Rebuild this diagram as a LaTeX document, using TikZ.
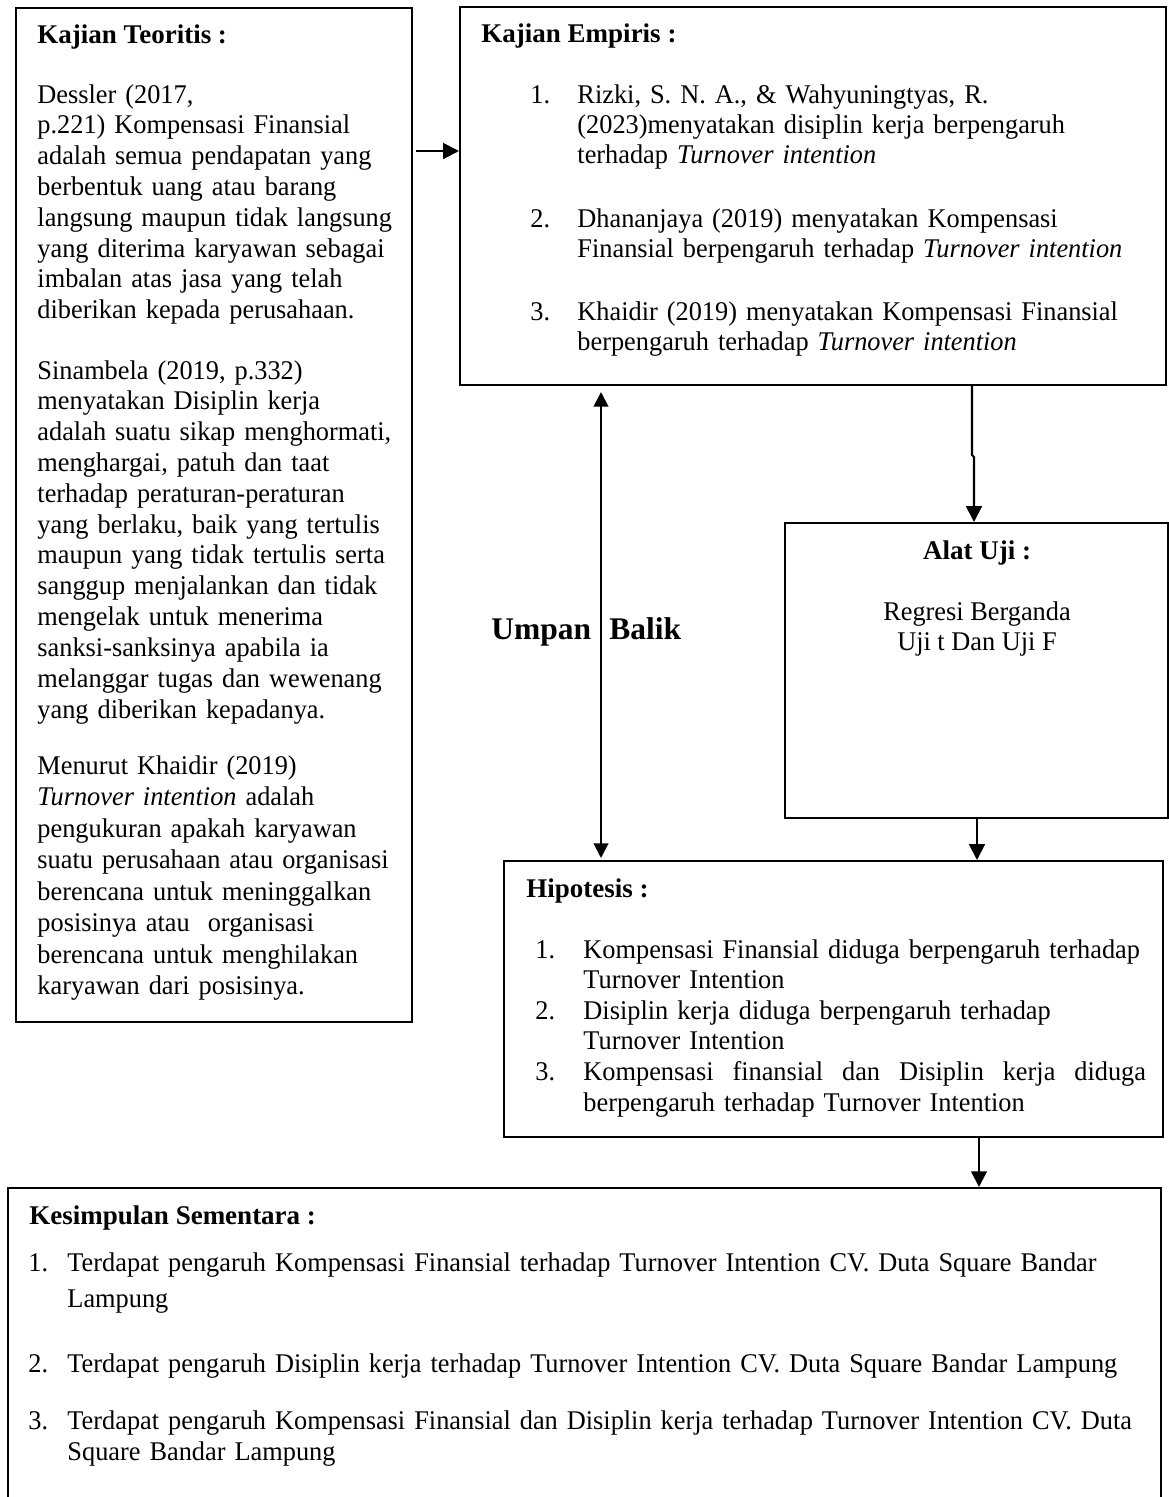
\documentclass[tikz,border=0pt]{standalone}
\usepackage{fontspec}
\setmainfont{Liberation Serif}[UprightFeatures={FakeStretch=0.975},ItalicFeatures={FakeStretch=0.975}]
\usetikzlibrary{arrows.meta,fit,calc}
\frenchspacing
\begin{document}
\begin{tikzpicture}[x=0.4444pt,y=-0.4444pt,
  box/.style={draw, line width=0.9pt, inner sep=0pt},
  arr/.style={line width=0.9pt, -{Triangle[length=7pt,width=7pt]}},
  darr/.style={line width=0.9pt, {Triangle[length=6.5pt,width=6.5pt]}-{Triangle[length=6.5pt,width=6.5pt]}},
  txt/.style={anchor=base west, inner sep=0pt, font=\fontsize{12}{13.7}\selectfont, align=left, text width=#1},
  txt/.default=180pt,
  hd/.style={anchor=base west, inner sep=0pt, font=\fontsize{12}{13.7}\selectfont\bfseries},
  num/.style={anchor=base west, inner sep=0pt, font=\fontsize{12}{13.7}\selectfont},
  ctr/.style={anchor=base, inner sep=0pt, font=\fontsize{12}{13.7}\selectfont},
  big/.style={anchor=base west, inner sep=0pt, font=\fontsize{14}{16}\selectfont\bfseries},
]
\clip (0,0) rectangle (1169,1497);
\fill[white] (0,0) rectangle (1169,1497);

% boxes
\node[box, fit={(16,8) (412,1022)}] (teo) {};
\node[box, fit={(460,7) (1166,385)}] (emp) {};
\node[box, fit={(785,523) (1168,818)}] (alat) {};
\node[box, fit={(504,861) (1163,1137)}] (hip) {};
\node[box, fit={(8,1188) (1161,1540)}] (kes) {};

% Kajian Teoritis
\node[hd] (teoh) at (37,43) {Kajian Teoritis :};
\node[txt] (teo1) at (37,103) {Dessler (2017,\\ p.221) Kompensasi Finansial\\ adalah semua pendapatan yang\\ berbentuk uang atau barang\\ langsung maupun tidak langsung\\ yang diterima karyawan sebagai\\ imbalan atas jasa yang telah\\ diberikan kepada perusahaan.};
\node[txt] (teo2) at (37,379) {Sinambela (2019, p.332)\\ menyatakan Disiplin kerja\\ adalah suatu sikap menghormati,\\ menghargai, patuh dan taat\\ terhadap peraturan-peraturan\\ yang berlaku, baik yang tertulis\\ maupun yang tidak tertulis serta\\ sanggup menjalankan dan tidak\\ mengelak untuk menerima\\ sanksi-sanksinya apabila ia\\ melanggar tugas dan wewenang\\ yang diberikan kepadanya.};
\node[txt, font=\fontsize{12}{14.0}\selectfont] (teo3) at (37,774) {Menurut Khaidir (2019)\\ \textit{Turnover intention} adalah\\ pengukuran apakah karyawan\\ suatu perusahaan atau organisasi\\ berencana untuk meninggalkan\\ posisinya atau\ \ organisasi\\ berencana untuk menghilakan\\ karyawan dari posisinya.};

% Kajian Empiris
\node[hd] (emph) at (481,42) {Kajian Empiris :};
\node[num] (e1n) at (530,103) {1.};
\node[txt=300pt, font=\fontsize{12}{13.4}\selectfont] (e1) at (577,103) {Rizki, S. N. A., \& Wahyuningtyas, R.\\ (2023)menyatakan disiplin kerja berpengaruh\\ terhadap \textit{Turnover intention}};
\node[num] (e2n) at (530,227) {2.};
\node[txt=300pt, font=\fontsize{12}{13.4}\selectfont] (e2) at (577,227) {Dhananjaya (2019) menyatakan Kompensasi\\ Finansial berpengaruh terhadap \textit{Turnover intention}};
\node[num] (e3n) at (530,320) {3.};
\node[txt=300pt, font=\fontsize{12}{13.4}\selectfont] (e3) at (577,320) {Khaidir (2019) menyatakan Kompensasi Finansial\\ berpengaruh terhadap \textit{Turnover intention}};

% Umpan Balik
\node[big] (umpan) at (491,639) {Umpan};
\node[big] (balik) at (609,639) {Balik};

% Alat Uji
\node[ctr, font=\fontsize{12}{13.7}\selectfont\bfseries] (alath) at (977,559) {Alat Uji :};
\node[ctr] (alat1) at (977,620) {Regresi Berganda};
\node[ctr] (alat2) at (977,650) {Uji t Dan Uji F};

% Hipotesis
\node[hd] (hiph) at (526,897) {Hipotesis :};
\node[num] (h1n) at (535,958) {1.};
\node[txt=300pt, font=\fontsize{12}{13.4}\selectfont] (h1) at (583,958) {Kompensasi Finansial diduga berpengaruh terhadap\\ Turnover Intention};
\node[num] (h2n) at (535,1019) {2.};
\node[txt=300pt, font=\fontsize{12}{13.4}\selectfont] (h2) at (583,1019) {Disiplin kerja diduga berpengaruh terhadap\\ Turnover Intention};
\node[num] (h3n) at (535,1080) {3.};
\node[txt=300pt, font=\fontsize{12}{13.8}\selectfont] (h3) at (583,1080) {\hbox to 250pt{Kompensasi \hfill finansial \hfill dan \hfill Disiplin \hfill kerja \hfill diduga}\\ berpengaruh terhadap Turnover Intention};

% Kesimpulan Sementara
\node[hd] (kesh) at (29,1224) {Kesimpulan Sementara :};
\node[num] (k1n) at (28,1271) {1.};
\node[txt=520pt, font=\fontsize{12}{16}\selectfont] (k1) at (67,1271) {Terdapat pengaruh Kompensasi Finansial terhadap Turnover Intention CV. Duta Square Bandar\\ Lampung};
\node[num] (k2n) at (28,1372) {2.};
\node[txt=520pt] (k2) at (67,1372) {Terdapat pengaruh Disiplin kerja terhadap Turnover Intention CV. Duta Square Bandar Lampung};
\node[num] (k3n) at (28,1429) {3.};
\node[txt=520pt, font=\fontsize{12}{14.1}\selectfont] (k3) at (67,1429) {Terdapat pengaruh Kompensasi Finansial dan Disiplin kerja terhadap Turnover Intention CV. Duta\\ Square Bandar Lampung};

% connectors
\coordinate (ya) at (0,151);
\draw[arr] ($(teo.east |- ya)+(3,0)$) -- (emp.west |- ya);
\coordinate (fb) at (601,0);
\draw[darr] ($(emp.south -| fb)+(0,6)$) -- ($(hip.north -| fb)+(0,-2)$);
\coordinate (j1) at (972,455);
\coordinate (j2) at (974,457);
\draw[arr] (emp.south -| j1) -- (j1) -- (j2) -- (alat.north -| j2);
\coordinate (c2) at (977,0);
\draw[arr] (alat.south -| c2) -- (hip.north -| c2);
\coordinate (c3) at (979,0);
\draw[arr] (hip.south -| c3) -- (kes.north -| c3);
\end{tikzpicture}
\end{document}
